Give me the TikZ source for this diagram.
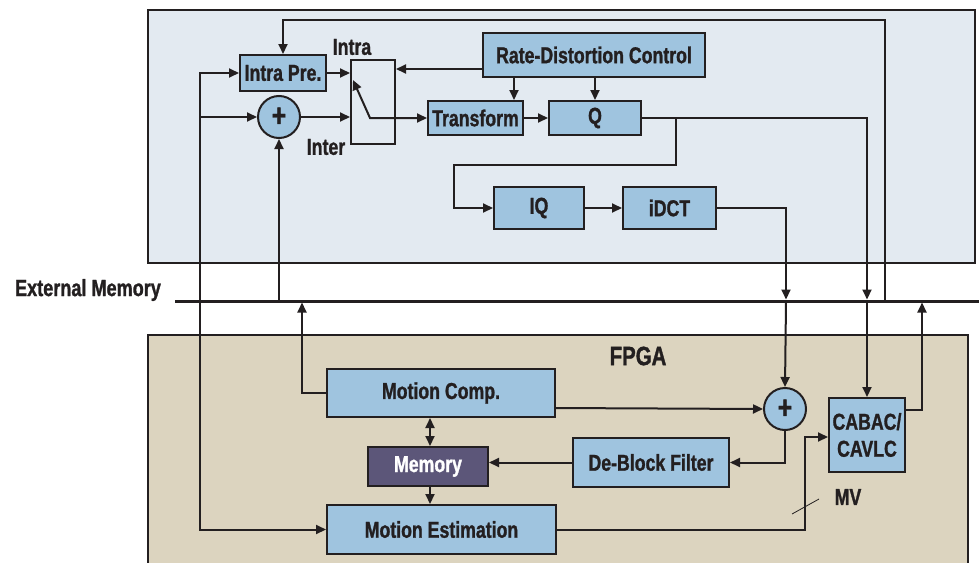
\documentclass[tikz,border=0pt]{standalone}
\usepackage{fontspec}
\setmainfont{Liberation Sans}[FakeStretch=0.77,BoldFeatures={FakeBold=1.2}]
\usetikzlibrary{arrows.meta,calc}
\definecolor{blk}{HTML}{231F20}
\definecolor{bluefill}{HTML}{9FC4DF}
\definecolor{topbg}{HTML}{E3EAF1}
\definecolor{tanbg}{HTML}{DCD4BF}
\definecolor{memfill}{HTML}{5C5679}
\begin{document}
\begin{tikzpicture}[x=1pt,y=-1pt,
  font=\fontsize{23}{24}\selectfont\bfseries,
  box/.style={draw=blk,line width=2pt,fill=bluefill,inner sep=0pt,text=blk},
  sumc/.style={draw=blk,line width=2pt,fill=bluefill,circle,minimum size=42pt,inner sep=0pt,text=blk,font=\fontsize{32}{32}\selectfont\bfseries},
  arr/.style={draw=blk,line width=2pt,-{Triangle[length=10pt,width=9pt]}},
  darr/.style={draw=blk,line width=2pt,{Triangle[length=10pt,width=9pt]}-{Triangle[length=10pt,width=9pt]}},
  lbl/.style={text=blk,inner sep=0pt}]
\useasboundingbox (0,0) rectangle (979,562);
% backgrounds
\draw[blk,line width=2pt,fill=topbg] (148,10) rectangle (975,263);
\fill[tanbg] (148,335) rectangle (968,570);
\draw[blk,line width=2pt] (148,570) -- (148,335) -- (968,335) -- (968,570);
\node[lbl,font=\fontsize{26.5}{28}\selectfont\bfseries] (fpga) at (638,356) {FPGA};
% external memory bus
\node[lbl,font=\fontsize{23.5}{25}\selectfont\bfseries] (extm) at (88,290) {External Memory};
\coordinate (busL) at (175,301);
\coordinate (busR) at (979,301);
\draw[blk,line width=3pt] (busL) -- (busR);
% top nodes
\node[box,minimum width=86pt,minimum height=36pt] (intra) at (283,73) {Intra Pre.};
\node[sumc] (sum1) at (279,117) {+};
\node[draw=blk,line width=2pt,minimum width=44pt,minimum height=84pt,inner sep=0pt] (sw) at (373,102) {};
\node[lbl] (intral) at (352,47) {Intra};
\node[lbl] (interl) at (326,147) {Inter};
\node[box,minimum width=222pt,minimum height=44pt] (rdc) at (594,55) {Rate-Distortion Control};
\node[box,minimum width=95pt,minimum height=34pt] (tr) at (475.5,118) {Transform};
\node[box,minimum width=92pt,minimum height=34pt] (q) at (595,118) {Q};
\node[box,minimum width=90pt,minimum height=42pt] (iq) at (539,208) {IQ};
\node[box,minimum width=93pt,minimum height=42pt] (idct) at (669.5,208) {iDCT};
% fpga nodes
\node[box,minimum width=228pt,minimum height=48pt] (mc) at (441,393) {Motion Comp.};
\node[box,fill=memfill,text=white,minimum width=120pt,minimum height=39pt] (mem) at (428,466.5) {Memory};
\node[box,minimum width=229pt,minimum height=49pt] (me) at (441.5,529.5) {Motion Estimation};
\node[box,minimum width=156pt,minimum height=49pt] (dbf) at (651,462.5) {De-Block Filter};
\node[sumc] (sum2) at (785,409) {+};
\node[box,minimum width=76pt,minimum height=74pt,align=center,font=\fontsize{23}{27}\selectfont\bfseries] (cabac) at (867,435) {CABAC/\\CAVLC};
\node[lbl] (mv) at (848,497) {MV};
% coordinates
\coordinate (in) at (200,117);
\coordinate (inT) at (200,73);
\coordinate (inB) at (200,529.5);
\coordinate (loopB) at (885,301);
\coordinate (loopR) at (885,20);
\coordinate (loopL) at (283,20);
\coordinate (sumB) at (279,301);
\coordinate (swp) at (370,118);
\coordinate (swt) at (353,80);
\coordinate (xa) at (514,0);
\coordinate (qa) at (676,118);
\coordinate (qb) at (676,165);
\coordinate (qc) at (454,165);
\coordinate (qd) at (454,208);
\coordinate (qe) at (867,118);
\coordinate (qf) at (867,299.5);
\coordinate (qg) at (867,302);
\coordinate (da) at (786,208);
\coordinate (db) at (786,299.5);
\coordinate (dc) at (786,302);
\coordinate (ca) at (922,410);
\coordinate (cb) at (922,302.5);
\coordinate (ma) at (302,393);
\coordinate (mb) at (302,302.5);
\coordinate (xm) at (430,0);
\coordinate (mcr) at (555,408);
\coordinate (sa) at (785,462.5);
\coordinate (ea) at (805,529.5);
\coordinate (eb) at (805,437);
\coordinate (y69) at (0,69);
\coordinate (t1) at (792,514);
\coordinate (t2) at (819,499);
% top connectors
\draw[arr] (loopB) -- (loopR) -- (loopL) -- (intra.north);
\draw[arr] (in) -- (inT) -- (intra.west);
\draw[arr] (in) -- (sum1.west);
\draw[arr] (in) -- (inB) -- (me.west);
\draw[arr] (sumB) -- (sum1.south);
\draw[arr] (intra.east) -- (sw.west |- intra.east);
\draw[arr] (sum1.east) -- (sw.west |- sum1.east);
\draw[darr] (swt) -- (swp) -- (tr.west);
\draw[arr] (rdc.west |- y69) -- (sw.east |- y69);
\draw[arr] (rdc.south -| xa) -- (tr.north -| xa);
\draw[arr] (rdc.south -| q) -- (q.north);
\draw[arr] (tr.east) -- (q.west);
\draw[arr] (q.east) -- (qe) -- (qf);
\draw[arr] (qa) -- (qb) -- (qc) -- (qd) -- (iq.west);
\draw[arr] (iq.east) -- (idct.west);
\draw[arr] (idct.east) -- (da) -- (db);
% fpga connectors
\draw[arr] (dc) -- (sum2.north);
\draw[arr] (qg) -- (cabac.north);
\draw[arr] (cabac.east |- ca) -- (ca) -- (cb);
\draw[arr] (mc.west) -- (ma) -- (mb);
\draw[darr] (mc.south -| xm) -- (mem.north -| xm);
\draw[arr] (mem.south -| xm) -- (me.north -| xm);
\draw[arr] (mcr) -- (sum2.west);
\draw[arr] (sum2.south) -- (sa) -- (dbf.east);
\draw[arr] (dbf.west) -- (mem.east |- dbf.west);
\draw[arr] (me.east) -- (ea) -- (eb) -- (cabac.west |- eb);
\draw[blk,line width=0.8pt] (t1) -- (t2);
\end{tikzpicture}
\end{document}
